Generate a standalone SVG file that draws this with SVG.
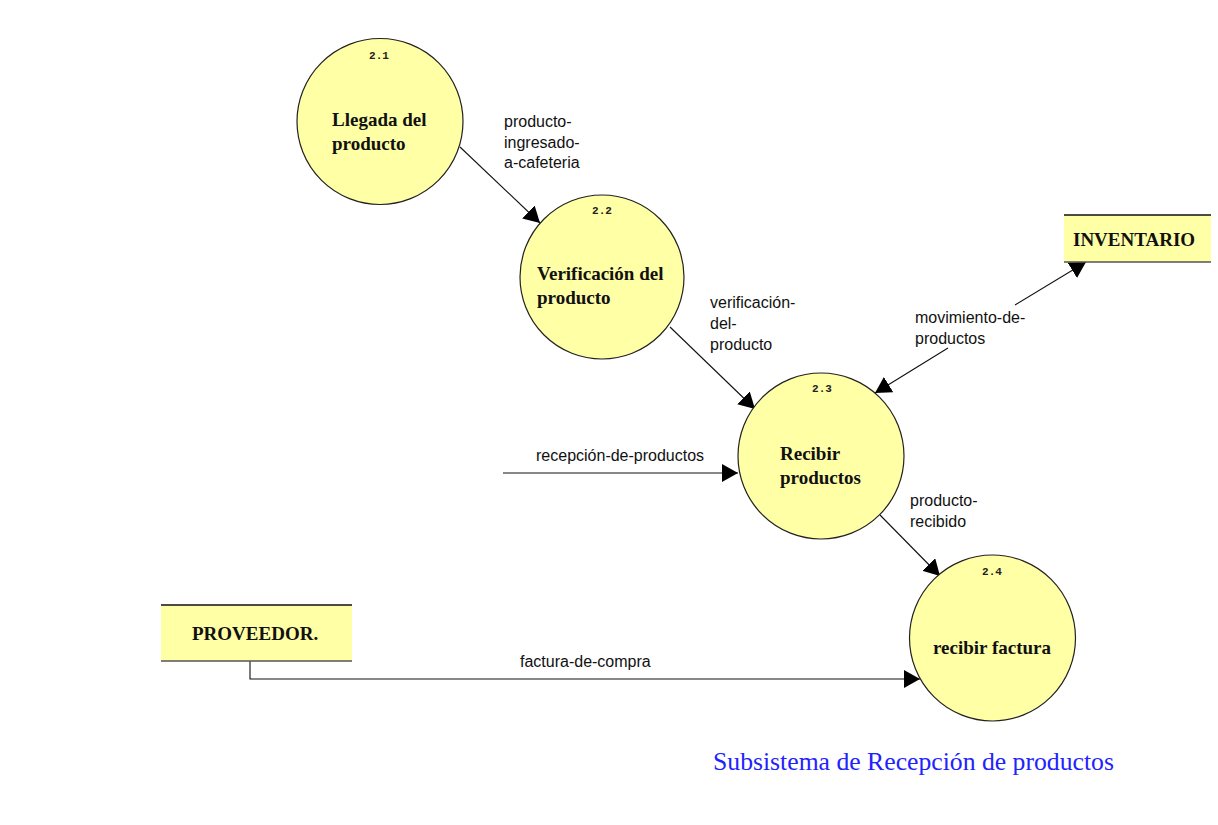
<svg xmlns="http://www.w3.org/2000/svg" width="1218" height="825" viewBox="0 0 1218 825">
<style>
.proc{fill:#FFFFA6;stroke:#222;stroke-width:1.2}
.num{font-family:"Liberation Mono",monospace;font-weight:bold;font-size:11px;fill:#222;text-anchor:middle}
.ptxt{font-family:"Liberation Serif",serif;font-weight:bold;font-size:19px;fill:#111}
.store{fill:#FFFFA6}
.stl{stroke:#111;stroke-width:1.5}
.sbl{stroke:#555;stroke-width:1.5}
.flow{fill:none;stroke:#111;stroke-width:1.1}
.lbl{font-family:"Liberation Sans",Arial,sans-serif;font-size:16px;fill:#111}
.title{font-family:"Liberation Serif",serif;font-size:25.7px;fill:#2222FF}
</style>
<defs>
<marker id="ah" markerUnits="userSpaceOnUse" viewBox="0 0 16 18" refX="16" refY="9" markerWidth="16" markerHeight="18" orient="auto-start-reverse">
<path d="M0,0 L16,9 L0,18 z" fill="#000"/>
</marker>
</defs>
<rect width="1218" height="825" fill="#fff"/>
<g id="connectors">
<path class="flow" d="M460,147 L540,223" marker-end="url(#ah)"/>
<path class="flow" d="M670,327 L755,409" marker-end="url(#ah)"/>
<path class="flow" d="M503,473 L738,473" marker-end="url(#ah)"/>
<path class="flow" d="M880,515 L940,576" marker-end="url(#ah)"/>
<path class="flow" d="M250,661 L250,679 L920,679" marker-end="url(#ah)"/>
<path class="flow" d="M875,393 L948,348 M1015,305 L1086,262" marker-start="url(#ah)" marker-end="url(#ah)"/>
<text class="lbl" x="504" y="127">producto-</text>
<text class="lbl" x="504" y="148">ingresado-</text>
<text class="lbl" x="504" y="168">a-cafeteria</text>
<text class="lbl" x="710" y="308">verificación-</text>
<text class="lbl" x="710" y="329">del-</text>
<text class="lbl" x="710" y="350">producto</text>
<text class="lbl" x="915" y="323">movimiento-de-</text>
<text class="lbl" x="915" y="344">productos</text>
<text class="lbl" x="536" y="461">recepción-de-productos</text>
<text class="lbl" x="910" y="506">producto-</text>
<text class="lbl" x="910" y="527">recibido</text>
<text class="lbl" x="520" y="667">factura-de-compra</text>
</g>
<g id="p21">
<circle class="proc" cx="380" cy="121.5" r="83"/>
<text class="num" x="379" y="59">2.1</text>
<text class="ptxt" x="332" y="126">Llegada del</text>
<text class="ptxt" x="332" y="150">producto</text>
</g>
<g id="p22">
<circle class="proc" cx="602" cy="277" r="82"/>
<text class="num" x="602" y="214">2.2</text>
<text class="ptxt" x="537" y="280">Verificación del</text>
<text class="ptxt" x="537" y="304">producto</text>
</g>
<g id="p23">
<circle class="proc" cx="821" cy="456" r="83"/>
<text class="num" x="822" y="392">2.3</text>
<text class="ptxt" x="780" y="460">Recibir</text>
<text class="ptxt" x="780" y="484">productos</text>
</g>
<g id="p24">
<circle class="proc" cx="992.5" cy="638" r="83"/>
<text class="num" x="992" y="575">2.4</text>
<text class="ptxt" x="992" y="654" text-anchor="middle">recibir factura</text>
</g>
<g id="inventario">
<rect class="store" x="1064" y="215" width="147" height="47"/>
<line class="stl" x1="1064" y1="215" x2="1211" y2="215"/>
<line class="sbl" x1="1064" y1="262" x2="1211" y2="262"/>
<text class="ptxt" x="1073" y="246">INVENTARIO</text>
</g>
<g id="proveedor">
<rect class="store" x="161" y="605" width="191" height="56"/>
<line class="stl" x1="161" y1="605" x2="352" y2="605"/>
<line class="sbl" x1="161" y1="661" x2="352" y2="661"/>
<text class="ptxt" x="192" y="640">PROVEEDOR.</text>
</g>
<text class="title" x="713" y="770">Subsistema de Recepción de productos</text>
</svg>
